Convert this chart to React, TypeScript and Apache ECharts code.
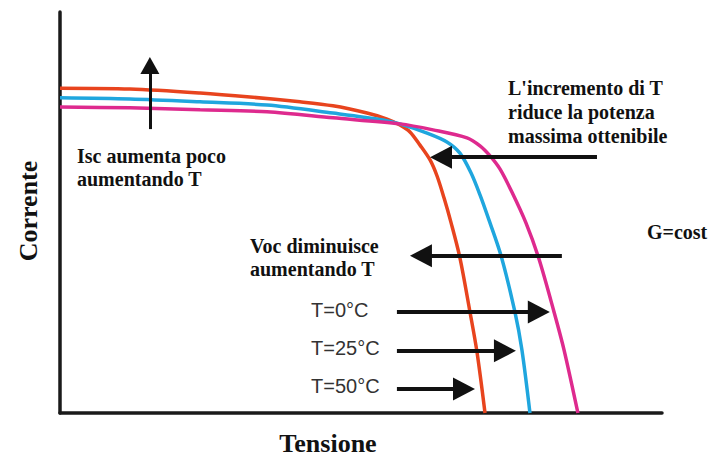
import React, { useEffect, useRef } from "react";
import * as echarts from "echarts";

// I-V curves (Tensione [V], Corrente [A])
const redX = [0, 3.49, 6.98, 9.47, 11.96, 13.6, 15.3, 16.3, 16.94, 17.44, 17.94, 18.44, 18.79, 19.14, 19.48, 19.93, 20.43, 20.78, 21.18];
const redY = [8.1, 8.08, 7.98, 7.88, 7.76, 7.66, 7.48, 7.33, 7.18, 7.01, 6.68, 6.31, 5.91, 5.36, 4.76, 3.87, 2.52, 1.52, 0];
const blueX = [0, 3.49, 6.98, 10.32, 13.6, 16.1, 16.94, 18.29, 19.28, 19.93, 20.48, 20.93, 21.38, 21.98, 22.67, 23.02, 23.42];
const blueY = [7.86, 7.83, 7.76, 7.68, 7.48, 7.31, 7.21, 6.98, 6.76, 6.48, 5.99, 5.44, 4.81, 3.92, 2.52, 1.57, 0];
const magX = [0, 3.49, 6.98, 10.32, 13.6, 16.94, 18.59, 20.28, 20.93, 21.43, 21.93, 22.52, 23.22, 23.87, 24.62, 25.12, 25.81];
const magY = [7.63, 7.61, 7.56, 7.51, 7.36, 7.21, 7.06, 6.86, 6.66, 6.41, 6.08, 5.51, 4.74, 3.84, 2.52, 1.57, 0];

const seriesNames = ["T=50°C", "T=25°C", "T=0°C"];

// annotation arrows (data coordinates): start of shaft and tip
const arrowFrom = [[4.48, 7.08], [26.76, 6.38], [25.01, 3.92], [16.79, 2.52], [16.79, 1.55], [16.79, 0.6]];
const arrowTip = [[4.48, 8.88], [18.44, 6.38], [17.44, 3.92], [24.41, 2.52], [22.72, 1.55], [20.68, 0.6]];

const X_MAX = 30;
const Y_MAX = 10;

const W = 713;
const H = 458;
const G_LEFT = 60;
const G_RIGHT = 51;
const G_TOP = 12;
const G_BOTTOM = 45;

const zip = (xs: number[], ys: number[]) => xs.map((x, i) => [x, ys[i]]);

export default function App() {
  const ref = useRef<HTMLDivElement>(null);
  useEffect(() => {
    if (!ref.current) return;
    const chart = echarts.init(ref.current, undefined, { renderer: "svg" });
    const pxX = (W - G_LEFT - G_RIGHT) / X_MAX;
    const pxY = (H - G_TOP - G_BOTTOM) / Y_MAX;

    const arrowLine = (i: number, headLen: number) => {
      const [x1, y1] = arrowFrom[i];
      const [x2, y2] = arrowTip[i];
      const dxp = (x2 - x1) * pxX;
      const dyp = (y2 - y1) * pxY;
      const len = Math.sqrt(dxp * dxp + dyp * dyp);
      const cx = x2 - ((dxp / len) * headLen) / 2 / pxX;
      const cy = y2 - ((dyp / len) * headLen) / 2 / pxY;
      return [{ coord: [x1, y1] }, { coord: [cx, cy] }];
    };

    const arrowSeries = (idx: number[], size: number[], width: number) => ({
      type: "line",
      data: [],
      silent: true,
      markLine: {
        silent: true,
        symbol: ["none", "triangle"],
        symbolSize: size,
        label: { show: false },
        emphasis: { disabled: true },
        lineStyle: { color: "#111", width, type: "solid" },
        data: idx.map((i) => arrowLine(i, size[1])),
      },
    });

    const serif = "'Liberation Serif', 'Times New Roman', serif";
    const sans = "'Liberation Sans', Arial, sans-serif";

    const curve = (name: string, xs: number[], ys: number[], color: string) => ({
      name,
      type: "line",
      data: zip(xs, ys),
      smooth: 0.3,
      symbol: "none",
      lineStyle: { color, width: 3.5 },
    });

    chart.setOption({
      animation: false,
      backgroundColor: "#ffffff",
      grid: { left: G_LEFT, right: G_RIGHT, top: G_TOP, bottom: G_BOTTOM },
      xAxis: {
        type: "value",
        min: 0,
        max: X_MAX,
        axisLine: { show: true, lineStyle: { color: "#1a1a1a", width: 3.5 } },
        axisTick: { show: false },
        axisLabel: { show: false },
        splitLine: { show: false },
      },
      yAxis: {
        type: "value",
        min: 0,
        max: Y_MAX,
        axisLine: { show: true, lineStyle: { color: "#1a1a1a", width: 3.5 } },
        axisTick: { show: false },
        axisLabel: { show: false },
        splitLine: { show: false },
      },
      series: [
        curve(seriesNames[0], redX, redY, "#E8441E"),
        curve(seriesNames[1], blueX, blueY, "#1FA6DE"),
        curve(seriesNames[2], magX, magY, "#DE2A8E"),
        arrowSeries([0], [19, 17], 3),
        arrowSeries([1, 2, 3, 4, 5], [23, 22], 4),
      ],
      graphic: [
        {
          type: "text",
          x: 77,
          y: 144,
          style: {
            text: "Isc aumenta poco\naumentando T",
            font: `bold 20px ${serif}`,
            lineHeight: 23,
            fill: "#111",
            textVerticalAlign: "top",
          },
        },
        {
          type: "text",
          x: 508,
          y: 76,
          style: {
            text: "L'incremento di T\nriduce la potenza\nmassima ottenibile",
            font: `bold 20px ${serif}`,
            lineHeight: 24,
            fill: "#111",
            textVerticalAlign: "top",
          },
        },
        {
          type: "text",
          x: 250,
          y: 234,
          style: {
            text: "Voc diminuisce\naumentando T",
            font: `bold 20px ${serif}`,
            lineHeight: 23,
            fill: "#111",
            textVerticalAlign: "top",
          },
        },
        {
          type: "text",
          x: 647,
          y: 220,
          style: {
            text: "G=cost",
            font: `bold 20px ${serif}`,
            lineHeight: 23,
            fill: "#111",
            textVerticalAlign: "top",
          },
        },
        {
          type: "text",
          x: 311,
          y: 310,
          style: { text: seriesNames[2], font: `20px ${sans}`, fill: "#333", textVerticalAlign: "middle" },
        },
        {
          type: "text",
          x: 311,
          y: 348,
          style: { text: seriesNames[1], font: `20px ${sans}`, fill: "#333", textVerticalAlign: "middle" },
        },
        {
          type: "text",
          x: 311,
          y: 386,
          style: { text: seriesNames[0], font: `20px ${sans}`, fill: "#333", textVerticalAlign: "middle" },
        },
        {
          type: "text",
          x: 328,
          y: 443,
          style: {
            text: "Tensione",
            font: `bold 26px ${serif}`,
            fill: "#111",
            textAlign: "center",
            textVerticalAlign: "middle",
          },
        },
        {
          type: "text",
          x: 28,
          y: 211,
          rotation: Math.PI / 2,
          style: {
            text: "Corrente",
            font: `bold 26px ${serif}`,
            fill: "#111",
            textAlign: "center",
            textVerticalAlign: "middle",
          },
        },
      ],
    });
    return () => chart.dispose();
  }, []);
  return (
    <div
      ref={ref}
      style={{ position: "fixed", left: 0, top: 0, width: W, height: H, background: "#fff" }}
    />
  );
}
